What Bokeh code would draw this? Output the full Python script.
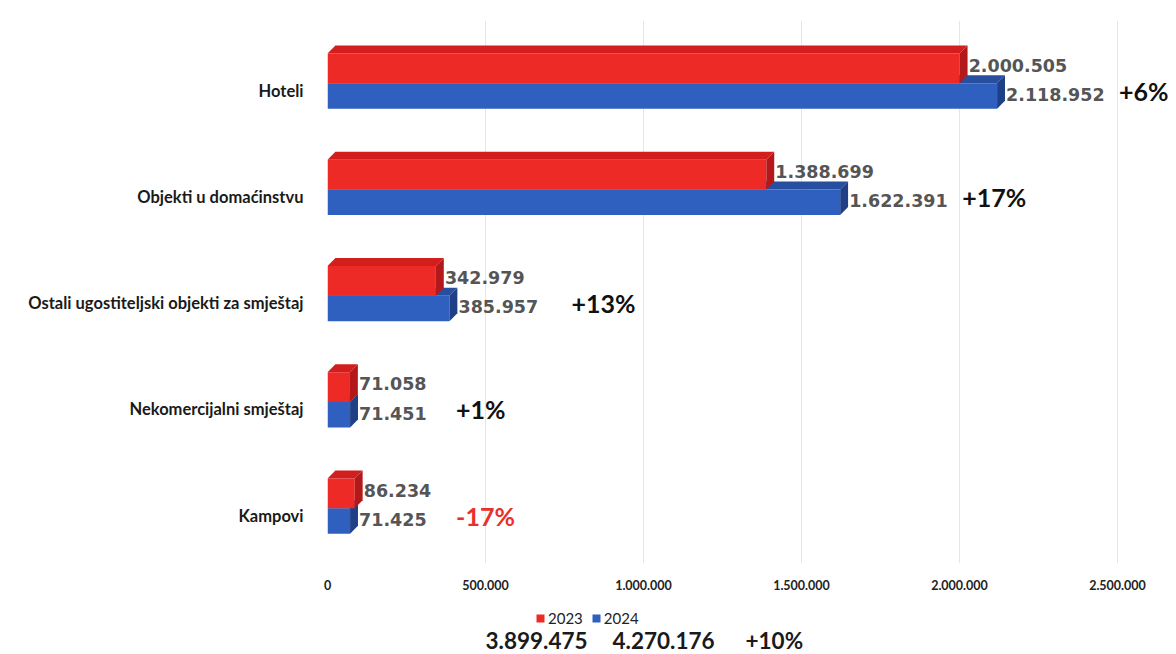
from bokeh.plotting import figure
from bokeh.layouts import column
from bokeh.models import Range1d, FixedTicker, ColumnDataSource, Legend, LegendItem
from bokeh.core.properties import value
from bokeh.embed import file_html
from bokeh.resources import INLINE

# ---------------- data ----------------
categories = ["Hoteli", "Objekti u domaćinstvu", "Ostali ugostiteljski objekti za smještaj",
              "Nekomercijalni smještaj", "Kampovi"]
values_2023 = [2000505, 1388699, 342979, 71058, 86234]
values_2024 = [2118952, 1622391, 385957, 71451, 71425]
changes = ["+6%", "+17%", "+13%", "+1%", "-17%"]
series_names = ["2023", "2024"]
total_2023 = 3899475
total_2024 = 4270176
total_change = "+10%"
x_ticks = [0, 500000, 1000000, 1500000, 2000000, 2500000]

# ---------------- styling ----------------
FONT = "Lato"
VAL_FONT = "DejaVu Sans"
RED, RED_TOP, RED_SIDE = "#ee2a26", "#d21f1d", "#b3191a"
BLUE, BLUE_TOP, BLUE_SIDE = "#2f5fbf", "#284f9f", "#1f3f86"
DX = 25000      # 3D depth in x (data units)
DY = 0.075      # 3D depth in y (category units)

W = 1176
H1, H2 = 593, 61
LEFT, TOP, BOTTOM = 327, 20, 30
PX_PER_UNIT_X = 316 / 1e6
X_MAX = (W - LEFT) / PX_PER_UNIT_X
FRAME_H = H1 - TOP - BOTTOM
Y_TOP = 4.66
Y_BOTTOM = Y_TOP - FRAME_H / 106.25


def fmt(v):
    return f"{v:,}".replace(",", ".")


n = len(categories)
ypos = [n - 1 - i for i in range(n)]

x_range = Range1d(0, X_MAX)
p = figure(width=W, height=H1, output_backend="svg", toolbar_location=None,
           x_range=x_range, y_range=Range1d(Y_BOTTOM, Y_TOP),
           min_border_left=LEFT, min_border_right=0, min_border_top=TOP, min_border_bottom=BOTTOM)
p.outline_line_color = None
p.background_fill_color = "white"
p.border_fill_color = "white"

# grid
p.ygrid.grid_line_color = None
p.xgrid.grid_line_color = "#e6e6e6"
p.xgrid.ticker = FixedTicker(ticks=x_ticks)


def bar_shapes(vals, offs_bottom, offs_top):
    bottoms = [y + offs_bottom for y in ypos]
    tops = [y + offs_top for y in ypos]
    top_xs = [[0, v, v + DX, DX] for v in vals]
    top_ys = [[t, t, t + DY, t + DY] for t in tops]
    side_xs = [[v, v + DX, v + DX, v] for v in vals]
    side_ys = [[b, b + DY, t + DY, t] for b, t in zip(bottoms, tops)]
    return bottoms, tops, top_xs, top_ys, side_xs, side_ys


# blue (2024) – lower bar
bb, bt, btx, bty, bsx, bsy = bar_shapes(values_2024, -0.17, 0.07)
p.patches(btx, bty, fill_color=BLUE_TOP, line_color=None)
p.quad(left=[0] * n, right=values_2024, bottom=bb, top=bt, fill_color=BLUE, line_color=None)
p.patches(bsx, bsy, fill_color=BLUE_SIDE, line_color=None)

# red (2023) – upper bar
rb, rt, rtx, rty, rsx, rsy = bar_shapes(values_2023, 0.07, 0.35)
p.quad(left=[0] * n, right=values_2023, bottom=rb, top=rt, fill_color=RED, line_color=None)
p.patches(rtx, rty, fill_color=RED_TOP, line_color=None)
p.patches(rsx, rsy, fill_color=RED_SIDE, line_color=None)

# value labels
red_src = ColumnDataSource(dict(x=values_2023, y=[(a + b) / 2 + 0.03 for a, b in zip(rb, rt)],
                                t=[fmt(v) for v in values_2023]))
blue_src = ColumnDataSource(dict(x=values_2024, y=[(a + b) / 2 + 0.015 for a, b in zip(bb, bt)],
                                 t=[fmt(v) for v in values_2024]))
for src in (red_src, blue_src):
    p.text(x="x", y="y", text="t", source=src, x_offset=9, text_baseline="middle",
           text_font=value(VAL_FONT), text_font_style="bold", text_font_size="17.5px",
           text_color="#555555")

# percentage change labels
pct_src = ColumnDataSource(dict(
    x=values_2024,
    y=[(a + b) / 2 + 0.05 for a, b in zip(bb, bt)],
    t=changes,
    off=[122 if v >= 100000 else 106 for v in values_2024],
    c=["#e8312c" if c.startswith("-") else "#111111" for c in changes],
))
p.text(x="x", y="y", text="t", source=pct_src, x_offset="off", text_baseline="middle",
       text_font=value(FONT), text_font_style="bold", text_font_size="25px", text_color="c")

# axes
p.yaxis.ticker = FixedTicker(ticks=ypos)
p.yaxis.major_label_overrides = {y: c for y, c in zip(ypos, categories)}
p.yaxis.axis_line_color = None
p.yaxis.major_tick_line_color = None
p.yaxis.minor_tick_line_color = None
p.yaxis.major_label_standoff = 18
p.yaxis.major_label_text_font = FONT
p.yaxis.major_label_text_font_style = "bold"
p.yaxis.major_label_text_font_size = "16.5px"
p.yaxis.major_label_text_color = "#1a1a1a"

p.xaxis.ticker = FixedTicker(ticks=x_ticks)
p.xaxis.major_label_overrides = {t: fmt(t) for t in x_ticks}
p.xaxis.axis_line_color = None
p.xaxis.major_tick_line_color = None
p.xaxis.minor_tick_line_color = None
p.xaxis.major_label_standoff = 10
p.xaxis.major_label_text_font = FONT
p.xaxis.major_label_text_font_style = "bold"
p.xaxis.major_label_text_font_size = "12.5px"
p.xaxis.major_label_text_color = "#222222"

# ---------------- legend + totals strip ----------------
p2 = figure(width=W, height=H2, output_backend="svg", toolbar_location=None,
            x_range=x_range, y_range=Range1d(0, H2), x_axis_type=None, y_axis_type=None,
            min_border_left=LEFT, min_border_right=0, min_border_top=0, min_border_bottom=0)
p2.outline_line_color = None
p2.grid.grid_line_color = None

# legend swatches: renderers whose (single) rectangle lies outside the visible range
leg_red = p2.quad(left=[-3 * DX], right=[-2 * DX], bottom=[0], top=[1], fill_color=RED, line_color=None)
leg_blue = p2.quad(left=[-3 * DX], right=[-2 * DX], bottom=[0], top=[1], fill_color=BLUE, line_color=None)
legend = Legend(items=[LegendItem(label=series_names[0], renderers=[leg_red]),
                       LegendItem(label=series_names[1], renderers=[leg_blue])],
                orientation="horizontal", location=(208, 27),
                glyph_width=10, glyph_height=10, label_text_font=FONT,
                label_text_font_size="15px", label_text_color="#222222",
                label_height=14, label_standoff=3, spacing=8, padding=1, margin=0,
                border_line_color=None, background_fill_alpha=0)
p2.add_layout(legend, "center")

tot_src = ColumnDataSource(dict(x=[0, 0, 0], y=[14, 14, 14],
                                t=[fmt(total_2023), fmt(total_2024), total_change],
                                off=[158, 285, 418]))
p2.text(x="x", y="y", text="t", source=tot_src, x_offset="off", text_baseline="middle",
        text_font=value(FONT), text_font_style="bold", text_font_size="22.5px",
        text_color="#1a1a1a")

layout = column(p, p2, spacing=0)
open("out.html", "w").write(file_html(layout, INLINE))
